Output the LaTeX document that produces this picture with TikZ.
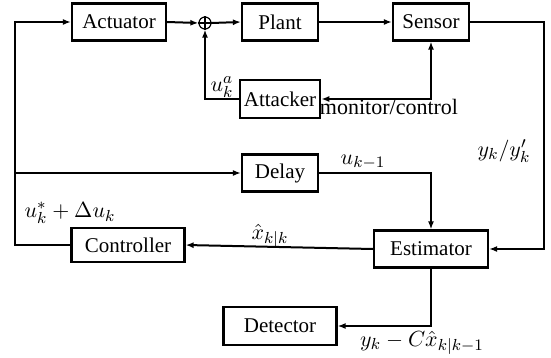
\documentclass[tikz,border=0pt]{standalone}
\usepackage{fontspec}
\setmainfont{Liberation Serif}
\usetikzlibrary{arrows.meta}
\begin{document}
\begin{tikzpicture}[x=0.5pt,y=-0.5pt,
  blk/.style={draw,line width=1.1pt,minimum height=18.5pt,inner sep=2pt,font=\fontsize{10.5}{12}\selectfont},
  conn/.style={line width=1pt,-{Latex[length=4pt,width=3pt]}},
  lbl/.style={inner sep=1pt,font=\fontsize{11}{13}\selectfont}]
\useasboundingbox (0,0) rectangle (551,358);
\node[blk,minimum width=47pt] (act) at (119,22) {Actuator};
\node[draw,circle,line width=0.6pt,minimum size=6pt,inner sep=0pt] (sum) at (205,23) {};
\draw[line width=0.6pt] (sum.north) -- (sum.south) (sum.west) -- (sum.east);
\node[blk,minimum width=38pt] (plant) at (280,22) {Plant};
\node[blk,minimum width=38pt] (sens) at (431,22) {Sensor};
\node[blk,minimum width=39.5pt,minimum height=19pt] (att) at (280,99) {Attacker};
\node[blk,minimum width=38pt] (del) at (280,173) {Delay};
\node[blk,minimum width=57pt] (est) at (431,249) {Estimator};
\node[blk,minimum width=56.5pt,minimum height=17pt] (ctl) at (128,245) {Controller};
\node[blk,minimum width=56.5pt,minimum height=19pt] (det) at (280,326) {Detector};
\coordinate (lft) at (15,245);
\coordinate (rgt) at (544,22);
\draw[conn] (ctl.west) -- (lft) |- (act.west);
\draw[conn] (lft |- del.west) -- (del.west);
\draw[conn] (act.east) -- (sum.west);
\draw[conn] (sum.east) -- (plant.west);
\draw[conn] (plant.east) -- (sens.west);
\draw[conn] (att.west) -| (sum.south);
\draw[line width=1pt,{Latex[length=4pt,width=3pt]}-{Latex[length=4pt,width=3pt]}] (att.east) -| (sens.south);
\draw[conn] (sens.east) -- (rgt) |- (est.east);
\draw[conn] (del.east) -| (est.north);
\draw[conn] (est.west) -- (ctl.east);
\draw[conn] (est.south) |- (det.east);
\node[lbl] (la) at (222,87) {$u_k^a$};
\node[lbl] (lm) at (389,107) {monitor/control};
\node[lbl] (ly) at (504,151) {$y_k/y'_k$};
\node[lbl] (lu) at (363,162) {$u_{k-1}$};
\node[lbl] (lx) at (270,236) {$\hat{x}_{k|k}$};
\node[lbl] (lc) at (70,213) {$u_k^*+\Delta u_k$};
\node[lbl] (ld) at (422,343) {$y_k-C\hat{x}_{k|k-1}$};
\end{tikzpicture}
\end{document}
